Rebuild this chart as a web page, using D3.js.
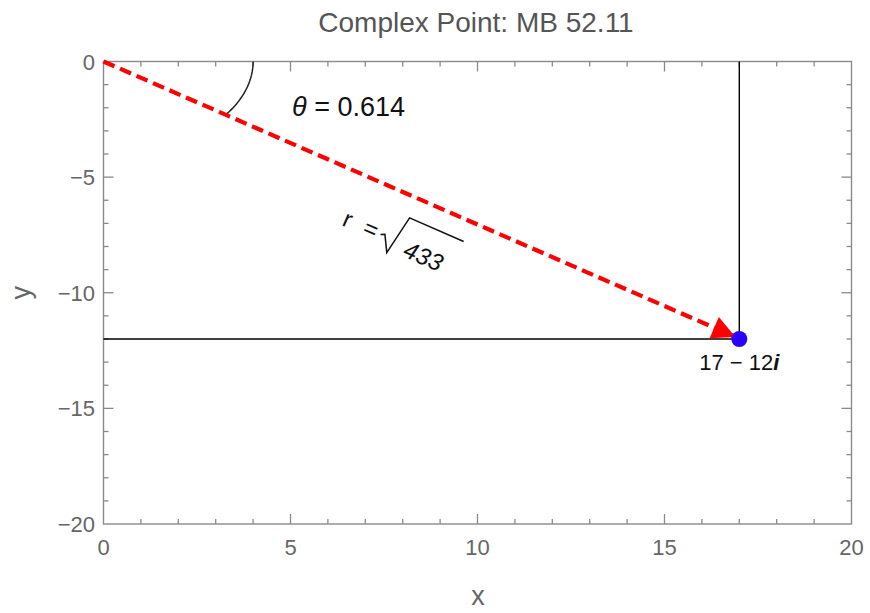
<!DOCTYPE html>
<html>
<head>
<meta charset="utf-8">
<script src="https://cdn.jsdelivr.net/npm/d3@7"></script>
<style>
body { margin: 0; background: #fff; }
text { font-family: "Liberation Sans", Arial, sans-serif; }
</style>
</head>
<body>
<svg id="svg"></svg>
<script>
var width = 870, height = 613;

// data
var point = [17, -12];
var xDomain = [0, 20];
var yDomain = [-20, 0];
var xMajor = [0, 5, 10, 15, 20];
var yMajor = [-20, -15, -10, -5, 0];
var xMinor = d3.range(0, 21, 1);
var yMinor = d3.range(-20, 1, 1);
var titleText = "Complex Point: MB 52.11";
var thetaValue = 0.614;
var radiusSquared = 433;
var pointLabel = ["17 \u2212 12", "i"];

var svg = d3.select("#svg")
	.attr("width", width)
	.attr("height", height);

var defs = svg.append("defs");
defs.append("marker")
	.attr("id", "arrow")
	.attr("viewBox", "0 0 10 10")
	.attr("refX", 9)
	.attr("refY", 5)
	.attr("markerWidth", 6.5)
	.attr("markerHeight", 5.5)
	.attr("markerUnits", "strokeWidth")
	.attr("orient", "auto")
	.append("path")
	.attr("d", "M0,0 L10,5 L0,10 z")
	.attr("fill", "#ff0000");

var x = d3.scaleLinear().domain(xDomain).range([103.5, 851.5]);
var y = d3.scaleLinear().domain(yDomain).range([524, 61.5]);

var axisColor = "#8a8a8a";
var labelColor = "#666";

// frame
svg.append("rect")
	.attr("x", x(0)).attr("y", y(0))
	.attr("width", x(20) - x(0)).attr("height", y(-20) - y(0))
	.attr("fill", "none")
	.attr("stroke", axisColor)
	.attr("stroke-width", 1.4);

function tickLen(v) { return v % 5 === 0 ? 10 : 5; }

// ticks on all four sides, pointing inward
var xt = svg.append("g").attr("stroke", axisColor).attr("stroke-width", 1.3);
xMinor.forEach(function(v) {
	if (v === 0 || v === 20) return;
	xt.append("line").attr("x1", x(v)).attr("x2", x(v))
		.attr("y1", y(-20)).attr("y2", y(-20) - tickLen(v));
	xt.append("line").attr("x1", x(v)).attr("x2", x(v))
		.attr("y1", y(0)).attr("y2", y(0) + tickLen(v));
});
yMinor.forEach(function(v) {
	if (v === 0 || v === -20) return;
	xt.append("line").attr("y1", y(v)).attr("y2", y(v))
		.attr("x1", x(0)).attr("x2", x(0) + tickLen(v));
	xt.append("line").attr("y1", y(v)).attr("y2", y(v))
		.attr("x1", x(20)).attr("x2", x(20) - tickLen(v));
});

// tick labels
svg.append("g").selectAll("text")
	.data(xMajor).enter().append("text")
	.attr("x", function(d) { return x(d); })
	.attr("y", 555)
	.attr("text-anchor", "middle")
	.attr("font-size", "22px")
	.attr("fill", labelColor)
	.text(function(d) { return d; });

svg.append("g").selectAll("text")
	.data(yMajor).enter().append("text")
	.attr("x", 95)
	.attr("y", function(d) { return y(d) + 8; })
	.attr("text-anchor", "end")
	.attr("font-size", "22px")
	.attr("fill", labelColor)
	.text(function(d) { return d === 0 ? "0" : "\u2212" + Math.abs(d); });

// title and axis labels
svg.append("text")
	.attr("x", 476).attr("y", 32)
	.attr("text-anchor", "middle")
	.attr("font-size", "28px")
	.attr("fill", "#555")
	.text(titleText);

svg.append("text")
	.attr("x", 478).attr("y", 605)
	.attr("text-anchor", "middle")
	.attr("font-size", "27px")
	.attr("fill", labelColor)
	.text("x");

svg.append("text")
	.attr("transform", "translate(30," + y(-10) + ") rotate(-90)")
	.attr("text-anchor", "middle")
	.attr("font-size", "27px")
	.attr("fill", labelColor)
	.text("y");

// projection lines
svg.append("line")
	.attr("x1", x(0)).attr("y1", y(point[1]))
	.attr("x2", x(point[0])).attr("y2", y(point[1]))
	.attr("stroke", "#000").attr("stroke-width", 1.4);
svg.append("line")
	.attr("x1", x(point[0])).attr("y1", y(0))
	.attr("x2", x(point[0])).attr("y2", y(point[1]))
	.attr("stroke", "#000").attr("stroke-width", 1.4);

// angle arc (circle of radius 4 in data units)
var theta = Math.atan2(-point[1], point[0]);
var arcPts = d3.range(0, 41).map(function(i) {
	var a = theta * i / 40;
	return [x(4 * Math.cos(a)), y(-4 * Math.sin(a))];
});
svg.append("path")
	.attr("d", d3.line()(arcPts))
	.attr("fill", "none")
	.attr("stroke", "#222")
	.attr("stroke-width", 1.5);

// vector arrow
svg.append("line")
	.attr("x1", x(0)).attr("y1", y(0))
	.attr("x2", x(point[0]) - 6).attr("y2", y(point[1]) - 3)
	.attr("stroke", "#ff0000")
	.attr("stroke-width", 4.2)
	.attr("stroke-dasharray", "12,6")
	.attr("marker-end", "url(#arrow)");

// point
svg.append("circle")
	.attr("cx", x(point[0])).attr("cy", y(point[1]))
	.attr("r", 8)
	.attr("fill", "#2a00ff");

// point label
var pl = svg.append("text")
	.attr("x", x(point[0]))
	.attr("y", 370)
	.attr("text-anchor", "middle")
	.attr("font-size", "22px")
	.attr("fill", "#111");
pl.append("tspan").text(pointLabel[0]);
pl.append("tspan").attr("font-style", "italic").attr("font-weight", "bold").text(pointLabel[1]);

// theta label
var tl = svg.append("text")
	.attr("x", 292).attr("y", 116)
	.attr("font-size", "27px")
	.attr("fill", "#111");
tl.append("tspan").attr("font-style", "italic").text("\u03b8");
tl.append("tspan").text(" = " + thetaValue);

// r label, rotated along the vector
var ang = Math.atan2(y(point[1]) - y(0), x(point[0]) - x(0)) * 180 / Math.PI;
var rg = svg.append("g")
	.attr("transform", "translate(341,225) rotate(" + ang + ")");
rg.append("text")
	.attr("x", 0).attr("y", 0)
	.attr("font-size", "24px")
	.attr("fill", "#111")
	.text("r");
rg.append("text")
	.attr("x", 29).attr("y", 0)
	.attr("text-anchor", "middle")
	.attr("font-size", "24px")
	.attr("fill", "#111")
	.text("=");
rg.append("path")
	.attr("d", "M40,-7 L44,-9 L53,7 L60,-34 L119,-34")
	.attr("fill", "none")
	.attr("stroke", "#111")
	.attr("stroke-width", 1.5);
rg.append("text")
	.attr("x", 68).attr("y", 4)
	.attr("font-size", "24px")
	.attr("font-style", "italic")
	.attr("fill", "#111")
	.text(radiusSquared);
</script>
</body>
</html>
